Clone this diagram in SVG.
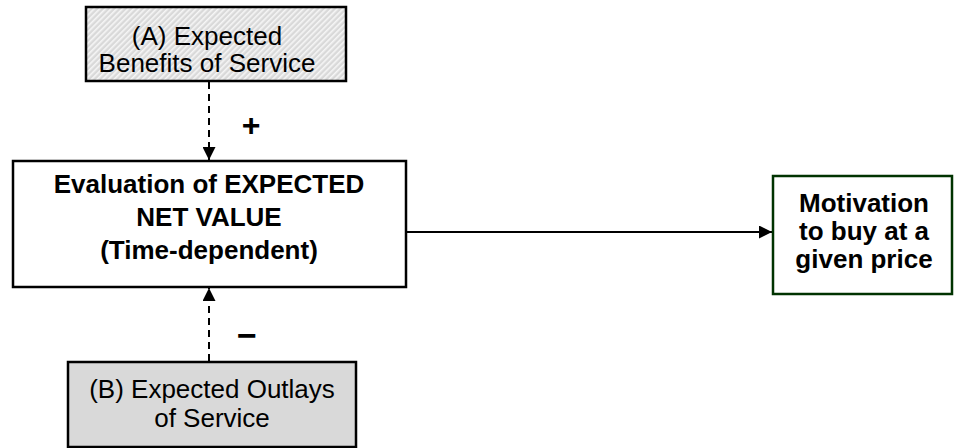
<svg xmlns="http://www.w3.org/2000/svg" width="954" height="448" viewBox="0 0 954 448">
<defs>
<pattern id="hatch" patternUnits="userSpaceOnUse" width="4" height="4" patternTransform="rotate(45)">
<rect width="4" height="4" fill="#d9d9d9"/>
<rect width="1.6" height="4" fill="#f6f6f6"/>
</pattern>
<marker id="ah" markerWidth="13" markerHeight="13" refX="13" refY="6.5" orient="auto" markerUnits="userSpaceOnUse">
<path d="M0,0 L13,6.5 L0,13 Z" fill="#000"/>
</marker>
</defs>
<style>
text{font-family:"Liberation Sans",Arial,sans-serif;font-size:26px;fill:#000;text-anchor:middle}
.b{font-weight:bold}
.box{stroke:#000;stroke-width:2.5}
.dash{stroke:#000;stroke-width:2;stroke-dasharray:7,5;fill:none}
.solid{stroke:#000;stroke-width:2;fill:none}
</style>
<g id="connectors">
<line class="dash" x1="209" y1="82" x2="209" y2="160" marker-end="url(#ah)"/>
<line class="dash" x1="209" y1="361" x2="209" y2="288" marker-end="url(#ah)"/>
<line class="solid" x1="407" y1="232" x2="772" y2="232" marker-end="url(#ah)"/>
<text class="b" x="251" y="136" style="font-size:32px">+</text>
<text class="b" x="247" y="347" style="font-size:34px">−</text>
</g>
<g id="nodeA">
<rect class="box" x="86" y="7" width="260" height="74" fill="url(#hatch)"/>
<text x="207" y="45">(A) Expected</text>
<text x="207" y="72">Benefits of Service</text>
</g>
<g id="nodeEval">
<rect class="box" x="13" y="161" width="393" height="126" fill="#fff"/>
<text class="b" x="209" y="193">Evaluation of EXPECTED</text>
<text class="b" x="209" y="226">NET VALUE</text>
<text class="b" x="209" y="259">(Time-dependent)</text>
</g>
<g id="nodeB">
<rect class="box" x="68" y="362" width="288" height="85" fill="#d9d9d9"/>
<text x="212" y="398">(B) Expected Outlays</text>
<text x="212" y="427">of Service</text>
</g>
<g id="nodeMotivation">
<rect x="773" y="176" width="179" height="118" fill="#fff" stroke="#003300" stroke-width="2.5"/>
<text class="b" x="864" y="212">Motivation</text>
<text class="b" x="864" y="240">to buy at a</text>
<text class="b" x="864" y="268">given price</text>
</g>
</svg>
